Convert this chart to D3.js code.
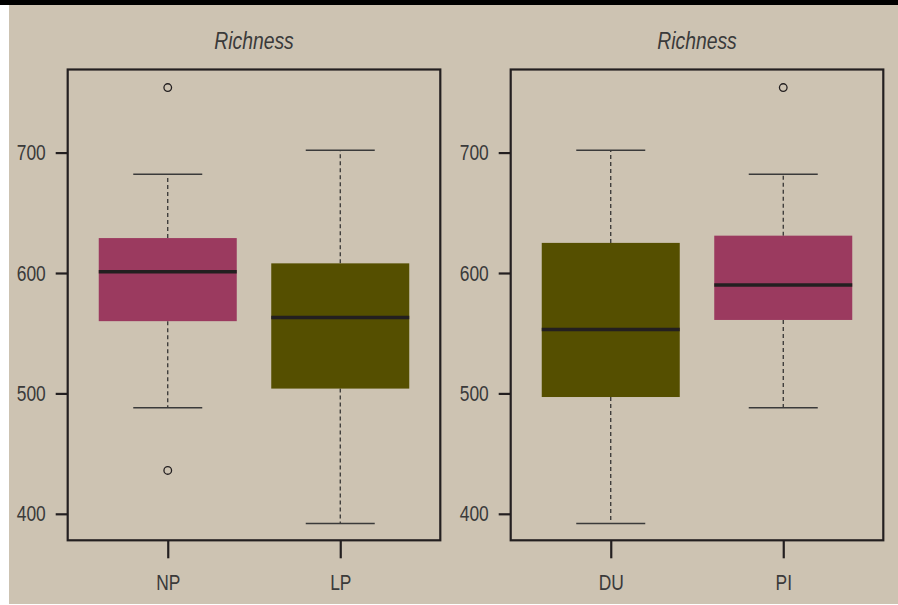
<!DOCTYPE html>
<html>
<head>
<meta charset="utf-8">
<script src="https://cdn.jsdelivr.net/npm/d3@7"></script>
<style>
  html, body { margin: 0; padding: 0; background: #ffffff; }
  svg { display: block; }
  text { font-family: "Liberation Sans", Arial, sans-serif; fill: #3a3a3a; }
</style>
</head>
<body>
<svg id="chart" width="898" height="605"></svg>
<script>
// Richness by group: two panels of box-and-whisker plots
const panelTitles = ["Richness", "Richness"];
const panelGroups = [["NP", "LP"], ["DU", "PI"]];

// five-number summaries, in the order NP, LP, DU, PI
const groups       = ["NP", "LP", "DU", "PI"];
const lowerWhisker = [488, 392, 392, 488];
const quartile1    = [560, 504, 497, 561];
const medians      = [601, 563, 553, 590];
const quartile3    = [629, 608, 625, 631];
const upperWhisker = [682, 702, 702, 682];
const outliers     = [[754, 436], [], [], [754]];
const fillColors   = ["#9b3a5f", "#554f00", "#554f00", "#9b3a5f"];

const yTicks = [400, 500, 600, 700];

const W = 898, H = 605;
const NARROW = 0.79; // horizontal squeeze for a condensed look
const svg = d3.select("#chart");

// page background: beige field under a black top rule
svg.append("rect").attr("x", 9).attr("y", 0).attr("width", W - 9).attr("height", H - 1).attr("fill", "#cdc3b2");
svg.append("rect").attr("x", 0).attr("y", 0).attr("width", W).attr("height", 5).attr("fill", "#000000");

const plotTop = 69.5, plotBottom = 540.3;
const panelLefts = [67.7, 510.7];
const panelWidth = 372.6;

// shared value scale (same range for both panels)
const y = d3.scaleLinear().domain([378, 769]).range([plotBottom, plotTop]);

panelGroups.forEach((cats, p) => {
  const left = panelLefts[p];
  const x = d3.scaleLinear().domain([0.42, 2.58]).range([left, left + panelWidth]);
  const g = svg.append("g");

  // title
  g.append("g")
    .attr("transform", `translate(${left + panelWidth / 2},49) scale(${NARROW},1)`)
    .append("text")
    .attr("text-anchor", "middle")
    .attr("font-style", "italic")
    .attr("font-size", 24.5)
    .text(panelTitles[p]);

  cats.forEach((cat, i) => {
    const k = groups.indexOf(cat);
    const cx = x(i + 1);
    const boxW = x(0.8) - x(0);
    const capW = x(0.4) - x(0);

    // whiskers (dashed) from box to caps
    g.append("line")
      .attr("x1", cx).attr("x2", cx)
      .attr("y1", y(quartile3[k])).attr("y2", y(upperWhisker[k]))
      .attr("stroke", "#2a2a2a").attr("stroke-width", 1.2).attr("stroke-dasharray", "4,3");
    g.append("line")
      .attr("x1", cx).attr("x2", cx)
      .attr("y1", y(quartile1[k])).attr("y2", y(lowerWhisker[k]))
      .attr("stroke", "#2a2a2a").attr("stroke-width", 1.2).attr("stroke-dasharray", "4,3");

    // caps
    [upperWhisker[k], lowerWhisker[k]].forEach(v => {
      g.append("line")
        .attr("x1", cx - capW / 2).attr("x2", cx + capW / 2)
        .attr("y1", y(v)).attr("y2", y(v))
        .attr("stroke", "#3a3a3a").attr("stroke-width", 1.5);
    });

    // box
    g.append("rect")
      .attr("x", cx - boxW / 2).attr("width", boxW)
      .attr("y", y(quartile3[k])).attr("height", y(quartile1[k]) - y(quartile3[k]))
      .attr("fill", fillColors[k]);

    // median
    g.append("line")
      .attr("x1", cx - boxW / 2).attr("x2", cx + boxW / 2)
      .attr("y1", y(medians[k])).attr("y2", y(medians[k]))
      .attr("stroke", "#231f20").attr("stroke-width", 3.5);

    // outliers
    outliers[k].forEach(v => {
      g.append("circle")
        .attr("cx", cx).attr("cy", y(v)).attr("r", 3.8)
        .attr("fill", "none").attr("stroke", "#231f20").attr("stroke-width", 1.3);
    });
  });

  // frame
  g.append("rect")
    .attr("x", left).attr("y", plotTop)
    .attr("width", panelWidth).attr("height", plotBottom - plotTop)
    .attr("fill", "none").attr("stroke", "#231f20").attr("stroke-width", 2.2);

  // y axis
  const yAxis = d3.axisLeft(y).tickValues(yTicks).tickSize(12).tickPadding(10).tickFormat(d3.format("d"));
  const ya = g.append("g").attr("transform", `translate(${left},0)`).call(yAxis);
  ya.select(".domain").remove();
  ya.selectAll(".tick line").attr("stroke", "#231f20").attr("stroke-width", 2.2);
  ya.selectAll(".tick text")
    .attr("font-size", 22).attr("fill", "#3a3a3a").attr("font-family", null)
    .attr("x", -22 / NARROW)
    .attr("transform", `scale(${NARROW},1)`);

  // x axis
  const xAxis = d3.axisBottom(x).tickValues([1, 2]).tickSize(18).tickPadding(16).tickFormat((d) => cats[d - 1]);
  const xa = g.append("g").attr("transform", `translate(0,${plotBottom})`).call(xAxis);
  xa.select(".domain").remove();
  xa.selectAll(".tick line").attr("stroke", "#231f20").attr("stroke-width", 2.2);
  xa.selectAll(".tick text")
    .attr("font-size", 22).attr("fill", "#3a3a3a").attr("font-family", null)
    .attr("transform", `scale(${NARROW},1)`);
});
</script>
</body>
</html>
